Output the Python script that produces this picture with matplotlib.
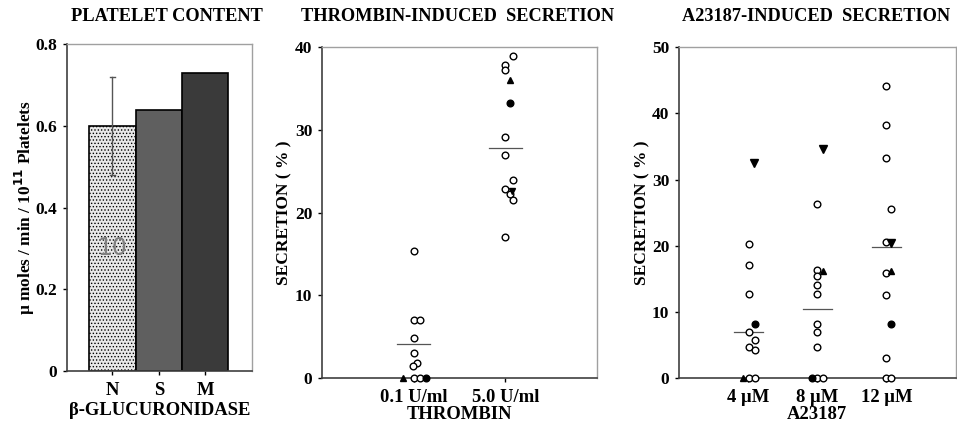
import numpy as np
import matplotlib
matplotlib.use('Agg')
import matplotlib.pyplot as plt

plt.rcParams['font.family'] = ['Liberation Serif', 'DejaVu Serif']
plt.rcParams['font.weight'] = 'bold'
plt.rcParams['hatch.color'] = '#a8a8a8'
plt.rcParams['hatch.linewidth'] = 0.6

# panel 1: platelet content
bar_labels = ['N', 'S', 'M']
bar_values = [0.60, 0.64, 0.73]
bar_err_lo = 0.48
bar_err_hi = 0.72

# panel 2: thrombin-induced secretion (%)
thr_labels = ['0.1 U/ml', '5.0 U/ml']
thr_open = [[15.3, 7.0, 7.0, 4.8, 3.0, 1.8, 1.5, 0.0, 0.0],
            [38.9, 37.8, 37.2, 29.1, 27.0, 24.0, 22.8, 22.2, 21.5, 17.0]]
thr_open_dx = [[0, 0, 0.07, 0, 0, 0.04, -0.01, 0, 0.065],
               [0.08, 0, 0, 0, 0, 0.08, 0, 0.045, 0.08, 0]]
thr_up = [[0.0], [36.0]]
thr_up_dx = [[-0.12], [0.045]]
thr_down = [[], [22.6]]
thr_down_dx = [[], [0.07]]
thr_fill = [[0.0], [33.3]]
thr_fill_dx = [[0.13], [0.045]]
thr_mean = [4.1, 27.8]

# panel 3: A23187-induced secretion (%)
a23_labels = ['4 \u00b5M', '8 \u00b5M', '12 \u00b5M']
a23_open = [[20.3, 17.1, 12.7, 7.0, 5.8, 4.7, 4.2, 0.0, 0.0],
            [26.3, 16.3, 15.4, 14.0, 12.7, 8.2, 7.0, 4.7, 0.0, 0.0],
            [44.2, 38.2, 33.3, 25.6, 20.6, 15.8, 12.6, 3.0, 0.0, 0.0]]
a23_open_dx = [[0.015, 0.015, 0.015, 0.015, 0.095, 0.015, 0.095, 0.015, 0.095],
               [0, 0, 0, 0, 0, 0, 0, 0, 0, 0.085],
               [0, 0, 0, 0.065, 0, 0, 0, 0, 0, 0.065]]
a23_up = [[0.0], [16.2], [16.1]]
a23_up_dx = [[-0.07], [0.085], [0.065]]
a23_down = [[32.5], [34.6], [20.4]]
a23_down_dx = [[0.08], [0.085], [0.065]]
a23_fill = [[8.2], [0.0], [8.2]]
a23_fill_dx = [[0.095], [-0.08], [0.065]]
a23_mean = [6.9, 10.4, 19.8]

fig = plt.figure(figsize=(9.57, 4.33), dpi=100)

title_kw = dict(fontsize=13.2, fontweight='bold', ha='center', va='center')
fig.text(0.174, 0.962, 'PLATELET CONTENT', **title_kw)
fig.text(0.478, 0.962, 'THROMBIN-INDUCED  SECRETION', **title_kw)
fig.text(0.853, 0.962, 'A23187-INDUCED  SECRETION', **title_kw)


def style_axes(ax):
    for s in ['top', 'right']:
        ax.spines[s].set_color('#a0a0a0')
        ax.spines[s].set_linewidth(1.0)
    for s in ['left', 'bottom']:
        ax.spines[s].set_color('#404040')
        ax.spines[s].set_linewidth(1.2)
    ax.tick_params(axis='y', length=3, width=1, labelsize=12.5, pad=4)
    ax.tick_params(axis='x', length=3, width=1, labelsize=13.4, pad=5)
    for lab in ax.get_xticklabels() + ax.get_yticklabels():
        lab.set_fontweight('bold')


# panel 1
ax1 = fig.add_axes([0.070, 0.143, 0.193, 0.755])
xpos = np.arange(len(bar_labels))
ax1.bar(xpos[0], bar_values[0], width=1.0, color='#e8e8e8', edgecolor='black',
        hatch='.....', linewidth=1.2)
ax1.bar(xpos[1], bar_values[1], width=1.0, color='#5f5f5f', edgecolor='black', linewidth=1.2)
ax1.bar(xpos[2], bar_values[2], width=1.0, color='#3a3a3a', edgecolor='black', linewidth=1.2)
ax1.plot([xpos[0], xpos[0]], [bar_err_lo, bar_err_hi], color='#555555', lw=1)
ax1.plot([xpos[0] - 0.06, xpos[0] + 0.06], [bar_err_hi, bar_err_hi], color='#555555', lw=1)
ax1.plot([xpos[0] - 0.06, xpos[0] + 0.06], [bar_err_lo, bar_err_lo], color='#555555', lw=1)
ax1.text(xpos[0], 0.30, '10', fontsize=17, color='#808080', ha='center', va='center',
         family='DejaVu Sans', fontweight='normal')
ax1.set_xlim(-0.98, 3.0)
ax1.set_ylim(0, 0.8)
ax1.set_yticks([0, 0.2, 0.4, 0.6, 0.8])
ax1.set_yticklabels(['0', '0.2', '0.4', '0.6', '0.8'])
ax1.set_xticks(xpos)
ax1.set_xticklabels(bar_labels)
ax1.tick_params(axis='x', length=0)
style_axes(ax1)
ax1.set_xlabel('\u03b2-GLUCURONIDASE', fontsize=13.4, fontweight='bold', labelpad=2)
ax1.set_ylabel('\u00b5 moles / min / 10$^{\\mathbf{11}}$ Platelets', fontsize=12.4,
               fontweight='bold', va='center')
ax1.yaxis.set_label_coords(-0.23, 0.5)


def scatter_group(ax, i, vals, dxs, marker, face, size):
    if len(vals) == 0:
        return
    xs = [i + 1 + d for d in dxs]
    ax.plot(xs, vals, linestyle='none', marker=marker, markersize=size,
            markerfacecolor=face, markeredgecolor='black', markeredgewidth=1.0,
            clip_on=False, zorder=3)


# panel 2
ax2 = fig.add_axes([0.3365, 0.127, 0.2875, 0.764])
for i in range(len(thr_labels)):
    scatter_group(ax2, i, thr_open[i], thr_open_dx[i], 'o', 'white', 4.8)
    scatter_group(ax2, i, thr_up[i], thr_up_dx[i], '^', 'black', 4.8)
    scatter_group(ax2, i, thr_down[i], thr_down_dx[i], 'v', 'black', 4.8)
    scatter_group(ax2, i, thr_fill[i], thr_fill_dx[i], 'o', 'black', 4.8)
    ax2.plot([i + 1 - 0.18, i + 1 + 0.18], [thr_mean[i], thr_mean[i]], color='#555555', lw=0.9)
ax2.set_xlim(0, 3)
ax2.set_ylim(0, 40)
ax2.set_yticks([0, 10, 20, 30, 40])
ax2.set_xticks([1, 2])
ax2.set_xticklabels(thr_labels)
style_axes(ax2)
ax2.set_xlabel('THROMBIN', fontsize=13.4, fontweight='bold', labelpad=0)
ax2.set_ylabel('SECRETION ( % )', fontsize=12.5, fontweight='bold', labelpad=2)

# panel 3
ax3 = fig.add_axes([0.7095, 0.127, 0.289, 0.764])
for i in range(len(a23_labels)):
    scatter_group(ax3, i, a23_open[i], a23_open_dx[i], 'o', 'white', 4.8)
    scatter_group(ax3, i, a23_up[i], a23_up_dx[i], '^', 'black', 4.8)
    scatter_group(ax3, i, a23_down[i], a23_down_dx[i], 'v', 'black', 5.2)
    scatter_group(ax3, i, a23_fill[i], a23_fill_dx[i], 'o', 'black', 4.8)
    ax3.plot([i + 1 - 0.21, i + 1 + 0.21], [a23_mean[i], a23_mean[i]], color='#555555', lw=0.9)
ax3.set_xlim(0, 4)
ax3.set_ylim(0, 50)
ax3.set_yticks([0, 10, 20, 30, 40, 50])
ax3.set_xticks([1, 2, 3])
ax3.set_xticklabels(a23_labels)
style_axes(ax3)
ax3.set_xlabel('A23187', fontsize=13.4, fontweight='bold', labelpad=0)
ax3.set_ylabel('SECRETION ( % )', fontsize=12.5, fontweight='bold', labelpad=1)

fig.savefig('out.png', dpi=100)
